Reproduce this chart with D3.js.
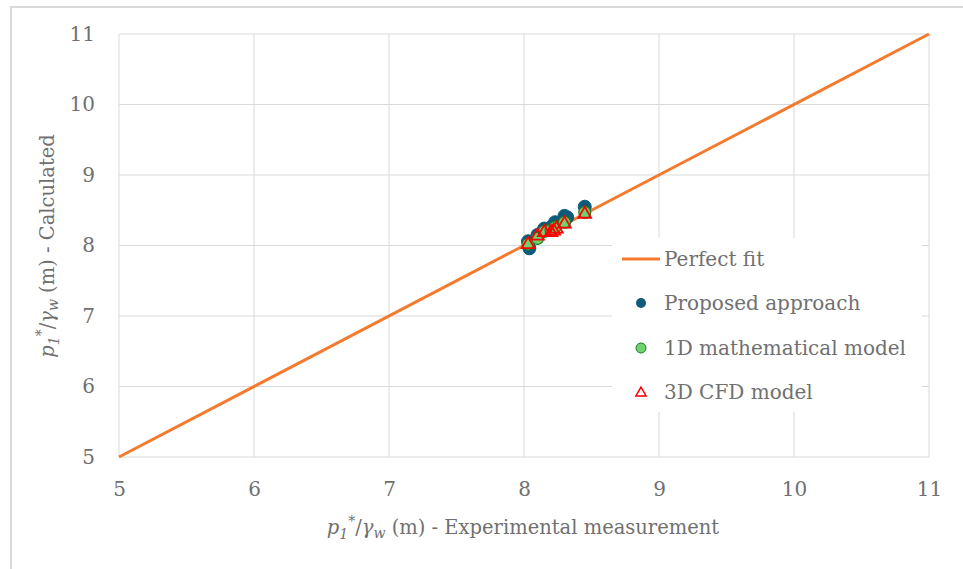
<!DOCTYPE html>
<html><head><meta charset="utf-8">
<script src="https://cdn.jsdelivr.net/npm/d3@7"></script>
<style>body{margin:0;background:#fff}</style>
</head><body>
<svg id="c" width="963" height="569"></svg>
<script>
const xTicks = [5,6,7,8,9,10,11];
const yTicks = [5,6,7,8,9,10,11];
const perfectFit = [[5,5],[11,11]];
const proposedX = [8.03, 8.04, 8.10, 8.15, 8.20, 8.23, 8.30, 8.32, 8.45];
const proposedY = [8.06, 7.96, 8.15, 8.24, 8.26, 8.33, 8.42, 8.40, 8.55];
const model1DX = [8.03, 8.10, 8.15, 8.20, 8.23, 8.30, 8.45];
const model1DY = [8.02, 8.10, 8.20, 8.22, 8.26, 8.33, 8.47];
const cfdX = [8.03, 8.10, 8.15, 8.20, 8.22, 8.24, 8.30, 8.45];
const cfdY = [8.03, 8.15, 8.20, 8.20, 8.22, 8.25, 8.32, 8.46];
const legendLabels = ["Perfect fit","Proposed approach","1D mathematical model","3D CFD model"];

const svg = d3.select("#c");
const FONT = "'DejaVu Serif', 'Liberation Serif', serif";
const TXT = "#707070";
svg.append("rect").attr("x",11).attr("y",7).attr("width",960).attr("height",570)
  .attr("fill","#fff").attr("stroke","#d9d9d9").attr("stroke-width",2);

const x = d3.scaleLinear().domain([5,11]).range([119,929]);
const y = d3.scaleLinear().domain([5,11]).range([457,34]);

const g = svg.append("g");
g.selectAll(".vg").data(xTicks).join("line").attr("x1",d=>x(d)).attr("x2",d=>x(d))
  .attr("y1",y(5)).attr("y2",y(11)).attr("stroke","#d9d9d9").attr("stroke-width",1);
g.selectAll(".hg").data(yTicks).join("line").attr("y1",d=>y(d)).attr("y2",d=>y(d))
  .attr("x1",x(5)).attr("x2",x(11)).attr("stroke","#d9d9d9").attr("stroke-width",1);

const xa = svg.append("g").attr("transform",`translate(0,${y(5)})`)
  .call(d3.axisBottom(x).tickValues(xTicks).tickSize(0).tickPadding(25).tickFormat(d3.format("d")));
xa.select(".domain").remove();
const ya = svg.append("g").attr("transform",`translate(${x(5)},0)`)
  .call(d3.axisLeft(y).tickValues(yTicks).tickSize(0).tickPadding(24).tickFormat(d3.format("d")));
ya.select(".domain").remove();
[xa, ya].forEach(a => a.attr("font-family", null).attr("font-size", null));
svg.selectAll(".tick text").style("font-family",FONT).style("font-size","20px").attr("fill",TXT);

const line = d3.line().x(d=>x(d[0])).y(d=>y(d[1]));
svg.append("path").datum(perfectFit).attr("d",line).attr("stroke","#f47b2e")
  .attr("stroke-width",3).attr("fill","none");

const blue = "#0e5a7a";
svg.append("g").selectAll("circle").data(proposedX.map((v,i)=>[v,proposedY[i]])).join("circle")
  .attr("cx",d=>x(d[0])).attr("cy",d=>y(d[1])).attr("r",6.5).attr("fill",blue).attr("stroke",blue);
svg.append("g").selectAll("circle").data(model1DX.map((v,i)=>[v,model1DY[i]])).join("circle")
  .attr("cx",d=>x(d[0])).attr("cy",d=>y(d[1])).attr("r",6).attr("fill","#6fd36f").attr("stroke","#1e7a26").attr("stroke-width",1.2);
const tri = d3.symbol().type(d3.symbolTriangle).size(70);
svg.append("g").selectAll("path").data(cfdX.map((v,i)=>[v,cfdY[i]])).join("path")
  .attr("d",tri).attr("transform",d=>`translate(${x(d[0])},${y(d[1])+1})`)
  .attr("fill","none").attr("stroke","#ff0000").attr("stroke-width",1.8);

const lg = svg.append("g");
lg.append("rect").attr("x",612).attr("y",238).attr("width",310).attr("height",174).attr("fill","#fff");
const ly = [259,303,348,392];
lg.append("line").attr("x1",622).attr("x2",660).attr("y1",ly[0]).attr("y2",ly[0])
  .attr("stroke","#f47b2e").attr("stroke-width",3);
lg.append("circle").attr("cx",641).attr("cy",ly[1]).attr("r",5).attr("fill",blue);
lg.append("circle").attr("cx",641).attr("cy",ly[2]).attr("r",5).attr("fill","#6fd36f").attr("stroke","#1e7a26");
lg.append("path").attr("d",d3.symbol().type(d3.symbolTriangle).size(45)).attr("transform",`translate(641,${ly[3]+1})`)
  .attr("fill","#fff").attr("stroke","#ff0000").attr("stroke-width",1.5);
lg.selectAll("text").data(legendLabels).join("text").attr("x",664).attr("y",(d,i)=>ly[i])
  .attr("dy","0.35em").style("font-family",FONT).style("font-size","20px").attr("fill",TXT).text(d=>d);

function title(sel, rest){
  sel.style("font-family",FONT).style("font-size","19.5px").attr("fill",TXT).attr("text-anchor","middle");
  sel.append("tspan").attr("font-style","italic").text("p");
  sel.append("tspan").attr("font-style","italic").style("font-size","14px").attr("dy",5).text("1");
  sel.append("tspan").style("font-size","14px").attr("dy",-13).text("*");
  sel.append("tspan").attr("dy",8).text("/");
  sel.append("tspan").attr("font-style","italic").text("γ");
  sel.append("tspan").attr("font-style","italic").style("font-size","14px").attr("dy",4).text("w");
  sel.append("tspan").attr("dy",-4).text(rest);
}
title(svg.append("text").attr("x",523).attr("y",534), " (m) - Experimental measurement");
title(svg.append("text").attr("transform","translate(54,246) rotate(-90)"), " (m) - Calculated");
</script>
</body></html>
